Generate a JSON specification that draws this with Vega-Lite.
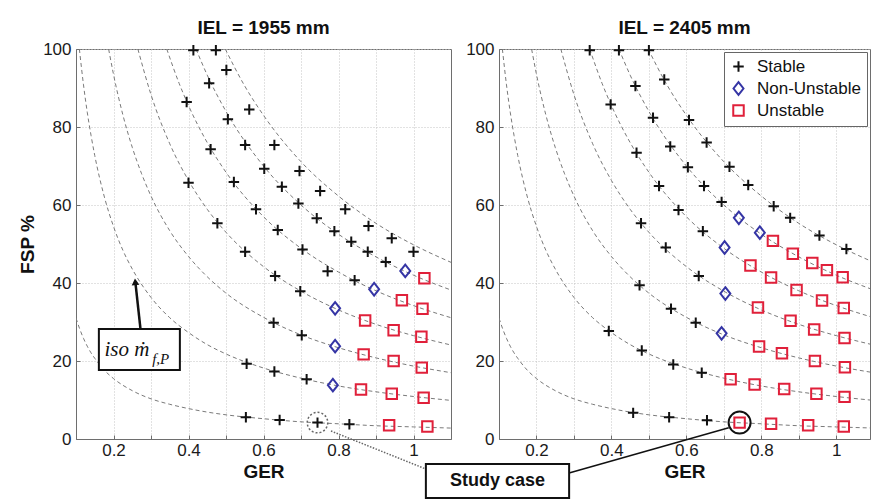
{
  "$schema": "https://vega.github.io/schema/vega-lite/v6.json",
  "background": "white",
  "padding": {"left": 18, "top": 18, "right": 1, "bottom": 4},
  "spacing": 48,
  "bounds": "flush",
  "resolve": {"scale": {"x": "independent", "shape": "independent", "stroke": "independent"}, "legend": {"shape": "independent", "stroke": "independent"}},
  "config": {
    "font": "Liberation Sans",
    "view": {"stroke": "#6e6e6e", "strokeWidth": 1},
    "axis": {"labelFont": "Liberation Sans", "labelFontSize": 17, "labelColor": "#1a1a1a", "titleFont": "Liberation Sans", "titleFontSize": 19, "titleFontWeight": "bold", "titleColor": "#111", "gridColor": "#c4c4c4", "gridDash": [1, 2], "domainColor": "#6e6e6e", "tickColor": "#6e6e6e", "tickSize": -4, "labelPadding": 9},
    "axisX": {"titlePadding": 4, "labelPadding": 7},
    "axisY": {"titlePadding": 5},
    "title": {"font": "Liberation Sans", "fontSize": 19, "fontWeight": "bold", "color": "#111", "offset": 2},
    "legend": {"labelFont": "Liberation Sans", "labelFontSize": 17, "labelColor": "#111", "fillColor": "white", "strokeColor": "#666", "padding": 6, "rowPadding": 2, "symbolStrokeWidth": 2, "symbolSize": 110, "labelOffset": 10, "symbolOpacity": 1}
  },
  "datasets": {
    "curves": [
      {"c": 3.1, "GER": 0.1, "FSP": 31.0}, {"c": 3.1, "GER": 0.11, "FSP": 28.2}, {"c": 3.1, "GER": 0.12, "FSP": 25.8}, {"c": 3.1, "GER": 0.13, "FSP": 23.8}, {"c": 3.1, "GER": 0.14, "FSP": 22.1}, {"c": 3.1, "GER": 0.15, "FSP": 20.7}, {"c": 3.1, "GER": 0.175, "FSP": 17.7}, {"c": 3.1, "GER": 0.2, "FSP": 15.5}, {"c": 3.1, "GER": 0.25, "FSP": 12.4}, {"c": 3.1, "GER": 0.3, "FSP": 10.3}, {"c": 3.1, "GER": 0.35, "FSP": 8.9}, {"c": 3.1, "GER": 0.4, "FSP": 7.8}, {"c": 3.1, "GER": 0.45, "FSP": 6.9}, {"c": 3.1, "GER": 0.5, "FSP": 6.2}, {"c": 3.1, "GER": 0.6, "FSP": 5.2}, {"c": 3.1, "GER": 0.7, "FSP": 4.4}, {"c": 3.1, "GER": 0.8, "FSP": 3.9}, {"c": 3.1, "GER": 0.9, "FSP": 3.4}, {"c": 3.1, "GER": 1.0, "FSP": 3.1}, {"c": 3.1, "GER": 1.1, "FSP": 2.8},
      {"c": 10.9, "GER": 0.109, "FSP": 100}, {"c": 10.9, "GER": 0.12, "FSP": 90.8}, {"c": 10.9, "GER": 0.13, "FSP": 83.8}, {"c": 10.9, "GER": 0.14, "FSP": 77.9}, {"c": 10.9, "GER": 0.15, "FSP": 72.7}, {"c": 10.9, "GER": 0.175, "FSP": 62.3}, {"c": 10.9, "GER": 0.2, "FSP": 54.5}, {"c": 10.9, "GER": 0.225, "FSP": 48.4}, {"c": 10.9, "GER": 0.25, "FSP": 43.6}, {"c": 10.9, "GER": 0.3, "FSP": 36.3}, {"c": 10.9, "GER": 0.35, "FSP": 31.1}, {"c": 10.9, "GER": 0.4, "FSP": 27.3}, {"c": 10.9, "GER": 0.45, "FSP": 24.2}, {"c": 10.9, "GER": 0.5, "FSP": 21.8}, {"c": 10.9, "GER": 0.6, "FSP": 18.2}, {"c": 10.9, "GER": 0.7, "FSP": 15.6}, {"c": 10.9, "GER": 0.8, "FSP": 13.6}, {"c": 10.9, "GER": 0.9, "FSP": 12.1}, {"c": 10.9, "GER": 1.0, "FSP": 10.9}, {"c": 10.9, "GER": 1.1, "FSP": 9.9},
      {"c": 18.7, "GER": 0.187, "FSP": 100}, {"c": 18.7, "GER": 0.2, "FSP": 93.5}, {"c": 18.7, "GER": 0.225, "FSP": 83.1}, {"c": 18.7, "GER": 0.25, "FSP": 74.8}, {"c": 18.7, "GER": 0.275, "FSP": 68.0}, {"c": 18.7, "GER": 0.3, "FSP": 62.3}, {"c": 18.7, "GER": 0.35, "FSP": 53.4}, {"c": 18.7, "GER": 0.4, "FSP": 46.8}, {"c": 18.7, "GER": 0.45, "FSP": 41.6}, {"c": 18.7, "GER": 0.5, "FSP": 37.4}, {"c": 18.7, "GER": 0.6, "FSP": 31.2}, {"c": 18.7, "GER": 0.7, "FSP": 26.7}, {"c": 18.7, "GER": 0.8, "FSP": 23.4}, {"c": 18.7, "GER": 0.9, "FSP": 20.8}, {"c": 18.7, "GER": 1.0, "FSP": 18.7}, {"c": 18.7, "GER": 1.1, "FSP": 17.0},
      {"c": 26.5, "GER": 0.265, "FSP": 100}, {"c": 26.5, "GER": 0.3, "FSP": 88.3}, {"c": 26.5, "GER": 0.35, "FSP": 75.7}, {"c": 26.5, "GER": 0.4, "FSP": 66.3}, {"c": 26.5, "GER": 0.45, "FSP": 58.9}, {"c": 26.5, "GER": 0.5, "FSP": 53.0}, {"c": 26.5, "GER": 0.6, "FSP": 44.2}, {"c": 26.5, "GER": 0.7, "FSP": 37.9}, {"c": 26.5, "GER": 0.8, "FSP": 33.1}, {"c": 26.5, "GER": 0.9, "FSP": 29.4}, {"c": 26.5, "GER": 1.0, "FSP": 26.5}, {"c": 26.5, "GER": 1.1, "FSP": 24.1},
      {"c": 34.2, "GER": 0.342, "FSP": 100}, {"c": 34.2, "GER": 0.375, "FSP": 91.2}, {"c": 34.2, "GER": 0.4, "FSP": 85.5}, {"c": 34.2, "GER": 0.45, "FSP": 76.0}, {"c": 34.2, "GER": 0.5, "FSP": 68.4}, {"c": 34.2, "GER": 0.6, "FSP": 57.0}, {"c": 34.2, "GER": 0.7, "FSP": 48.9}, {"c": 34.2, "GER": 0.8, "FSP": 42.8}, {"c": 34.2, "GER": 0.9, "FSP": 38.0}, {"c": 34.2, "GER": 1.0, "FSP": 34.2}, {"c": 34.2, "GER": 1.1, "FSP": 31.1},
      {"c": 42.0, "GER": 0.42, "FSP": 100}, {"c": 42.0, "GER": 0.45, "FSP": 93.3}, {"c": 42.0, "GER": 0.5, "FSP": 84.0}, {"c": 42.0, "GER": 0.6, "FSP": 70.0}, {"c": 42.0, "GER": 0.7, "FSP": 60.0}, {"c": 42.0, "GER": 0.8, "FSP": 52.5}, {"c": 42.0, "GER": 0.9, "FSP": 46.7}, {"c": 42.0, "GER": 1.0, "FSP": 42.0}, {"c": 42.0, "GER": 1.1, "FSP": 38.2},
      {"c": 49.8, "GER": 0.498, "FSP": 100}, {"c": 49.8, "GER": 0.55, "FSP": 90.5}, {"c": 49.8, "GER": 0.6, "FSP": 83.0}, {"c": 49.8, "GER": 0.7, "FSP": 71.1}, {"c": 49.8, "GER": 0.8, "FSP": 62.3}, {"c": 49.8, "GER": 0.9, "FSP": 55.3}, {"c": 49.8, "GER": 1.0, "FSP": 49.8}, {"c": 49.8, "GER": 1.1, "FSP": 45.3}
    ],
    "points1955": [
      {"GER": 0.413, "FSP": 99.7, "status": "Stable"}, {"GER": 0.473, "FSP": 99.7, "status": "Stable"}, {"GER": 0.501, "FSP": 94.6, "status": "Stable"}, {"GER": 0.455, "FSP": 91.2, "status": "Stable"}, {"GER": 0.395, "FSP": 86.4, "status": "Stable"}, {"GER": 0.562, "FSP": 84.5, "status": "Stable"}, {"GER": 0.505, "FSP": 82.0, "status": "Stable"}, {"GER": 0.459, "FSP": 74.3, "status": "Stable"}, {"GER": 0.551, "FSP": 75.4, "status": "Stable"}, {"GER": 0.629, "FSP": 75.4, "status": "Stable"}, {"GER": 0.602, "FSP": 69.3, "status": "Stable"}, {"GER": 0.696, "FSP": 68.7, "status": "Stable"}, {"GER": 0.4, "FSP": 65.7, "status": "Stable"}, {"GER": 0.521, "FSP": 65.9, "status": "Stable"}, {"GER": 0.649, "FSP": 64.7, "status": "Stable"}, {"GER": 0.751, "FSP": 63.6, "status": "Stable"}, {"GER": 0.58, "FSP": 58.9, "status": "Stable"}, {"GER": 0.693, "FSP": 60.4, "status": "Stable"}, {"GER": 0.818, "FSP": 58.9, "status": "Stable"}, {"GER": 0.477, "FSP": 55.3, "status": "Stable"}, {"GER": 0.742, "FSP": 56.6, "status": "Stable"}, {"GER": 0.638, "FSP": 53.6, "status": "Stable"}, {"GER": 0.789, "FSP": 53.3, "status": "Stable"}, {"GER": 0.88, "FSP": 54.6, "status": "Stable"}, {"GER": 0.834, "FSP": 50.6, "status": "Stable"}, {"GER": 0.942, "FSP": 51.5, "status": "Stable"}, {"GER": 0.551, "FSP": 48.0, "status": "Stable"}, {"GER": 0.704, "FSP": 48.6, "status": "Stable"}, {"GER": 0.878, "FSP": 48.0, "status": "Stable"}, {"GER": 1.0, "FSP": 48.0, "status": "Stable"}, {"GER": 0.926, "FSP": 45.4, "status": "Stable"}, {"GER": 0.771, "FSP": 43.0, "status": "Stable"}, {"GER": 0.631, "FSP": 41.8, "status": "Stable"}, {"GER": 0.843, "FSP": 40.7, "status": "Stable"}, {"GER": 0.698, "FSP": 37.9, "status": "Stable"}, {"GER": 0.627, "FSP": 29.8, "status": "Stable"}, {"GER": 0.702, "FSP": 26.6, "status": "Stable"}, {"GER": 0.555, "FSP": 19.3, "status": "Stable"}, {"GER": 0.629, "FSP": 17.3, "status": "Stable"}, {"GER": 0.715, "FSP": 15.3, "status": "Stable"}, {"GER": 0.553, "FSP": 5.6, "status": "Stable"}, {"GER": 0.643, "FSP": 4.9, "status": "Stable"}, {"GER": 0.744, "FSP": 4.2, "status": "Stable"}, {"GER": 0.829, "FSP": 3.8, "status": "Stable"},
      {"GER": 0.978, "FSP": 43.1, "status": "Non-Unstable"}, {"GER": 0.895, "FSP": 38.4, "status": "Non-Unstable"}, {"GER": 0.791, "FSP": 33.5, "status": "Non-Unstable"}, {"GER": 0.791, "FSP": 23.8, "status": "Non-Unstable"}, {"GER": 0.785, "FSP": 13.8, "status": "Non-Unstable"},
      {"GER": 1.029, "FSP": 41.2, "status": "Unstable"}, {"GER": 0.969, "FSP": 35.6, "status": "Unstable"}, {"GER": 1.024, "FSP": 33.4, "status": "Unstable"}, {"GER": 0.871, "FSP": 30.4, "status": "Unstable"}, {"GER": 0.947, "FSP": 27.9, "status": "Unstable"}, {"GER": 1.021, "FSP": 26.2, "status": "Unstable"}, {"GER": 0.867, "FSP": 21.7, "status": "Unstable"}, {"GER": 0.947, "FSP": 20.0, "status": "Unstable"}, {"GER": 1.022, "FSP": 18.3, "status": "Unstable"}, {"GER": 0.86, "FSP": 12.7, "status": "Unstable"}, {"GER": 0.942, "FSP": 11.6, "status": "Unstable"}, {"GER": 1.027, "FSP": 10.6, "status": "Unstable"}, {"GER": 0.935, "FSP": 3.5, "status": "Unstable"}, {"GER": 1.037, "FSP": 3.2, "status": "Unstable"}
    ],
    "points2405": [
      {"GER": 0.342, "FSP": 99.7, "status": "Stable"}, {"GER": 0.42, "FSP": 99.7, "status": "Stable"}, {"GER": 0.5, "FSP": 99.7, "status": "Stable"}, {"GER": 0.541, "FSP": 92.2, "status": "Stable"}, {"GER": 0.464, "FSP": 90.5, "status": "Stable"}, {"GER": 0.398, "FSP": 85.8, "status": "Stable"}, {"GER": 0.511, "FSP": 82.4, "status": "Stable"}, {"GER": 0.607, "FSP": 81.8, "status": "Stable"}, {"GER": 0.654, "FSP": 76.0, "status": "Stable"}, {"GER": 0.557, "FSP": 75.0, "status": "Stable"}, {"GER": 0.467, "FSP": 73.4, "status": "Stable"}, {"GER": 0.604, "FSP": 69.7, "status": "Stable"}, {"GER": 0.715, "FSP": 69.8, "status": "Stable"}, {"GER": 0.527, "FSP": 64.9, "status": "Stable"}, {"GER": 0.647, "FSP": 64.9, "status": "Stable"}, {"GER": 0.765, "FSP": 65.1, "status": "Stable"}, {"GER": 0.579, "FSP": 58.7, "status": "Stable"}, {"GER": 0.694, "FSP": 60.8, "status": "Stable"}, {"GER": 0.833, "FSP": 59.7, "status": "Stable"}, {"GER": 0.479, "FSP": 55.3, "status": "Stable"}, {"GER": 0.877, "FSP": 56.7, "status": "Stable"}, {"GER": 0.644, "FSP": 53.3, "status": "Stable"}, {"GER": 0.955, "FSP": 52.2, "status": "Stable"}, {"GER": 0.545, "FSP": 49.1, "status": "Stable"}, {"GER": 1.027, "FSP": 48.7, "status": "Stable"}, {"GER": 0.475, "FSP": 39.4, "status": "Stable"}, {"GER": 0.633, "FSP": 41.8, "status": "Stable"}, {"GER": 0.559, "FSP": 33.4, "status": "Stable"}, {"GER": 0.625, "FSP": 29.8, "status": "Stable"}, {"GER": 0.393, "FSP": 27.7, "status": "Stable"}, {"GER": 0.481, "FSP": 22.7, "status": "Stable"}, {"GER": 0.565, "FSP": 19.1, "status": "Stable"}, {"GER": 0.641, "FSP": 17.0, "status": "Stable"}, {"GER": 0.458, "FSP": 6.7, "status": "Stable"}, {"GER": 0.554, "FSP": 5.6, "status": "Stable"}, {"GER": 0.655, "FSP": 4.8, "status": "Stable"},
      {"GER": 0.74, "FSP": 56.7, "status": "Non-Unstable"}, {"GER": 0.796, "FSP": 52.9, "status": "Non-Unstable"}, {"GER": 0.702, "FSP": 49.1, "status": "Non-Unstable"}, {"GER": 0.704, "FSP": 37.3, "status": "Non-Unstable"}, {"GER": 0.694, "FSP": 27.1, "status": "Non-Unstable"},
      {"GER": 0.831, "FSP": 50.8, "status": "Unstable"}, {"GER": 0.884, "FSP": 47.5, "status": "Unstable"}, {"GER": 0.771, "FSP": 44.5, "status": "Unstable"}, {"GER": 0.936, "FSP": 45.1, "status": "Unstable"}, {"GER": 0.975, "FSP": 43.3, "status": "Unstable"}, {"GER": 1.017, "FSP": 41.5, "status": "Unstable"}, {"GER": 0.826, "FSP": 41.4, "status": "Unstable"}, {"GER": 0.894, "FSP": 38.2, "status": "Unstable"}, {"GER": 0.962, "FSP": 35.5, "status": "Unstable"}, {"GER": 1.02, "FSP": 33.6, "status": "Unstable"}, {"GER": 0.791, "FSP": 33.7, "status": "Unstable"}, {"GER": 0.878, "FSP": 30.3, "status": "Unstable"}, {"GER": 0.941, "FSP": 28.1, "status": "Unstable"}, {"GER": 1.022, "FSP": 25.9, "status": "Unstable"}, {"GER": 0.794, "FSP": 23.7, "status": "Unstable"}, {"GER": 0.855, "FSP": 22.0, "status": "Unstable"}, {"GER": 0.943, "FSP": 20.0, "status": "Unstable"}, {"GER": 1.023, "FSP": 18.4, "status": "Unstable"}, {"GER": 0.718, "FSP": 15.3, "status": "Unstable"}, {"GER": 0.782, "FSP": 14.0, "status": "Unstable"}, {"GER": 0.861, "FSP": 12.8, "status": "Unstable"}, {"GER": 0.947, "FSP": 11.6, "status": "Unstable"}, {"GER": 1.022, "FSP": 10.8, "status": "Unstable"}, {"GER": 0.742, "FSP": 4.2, "status": "Unstable"}, {"GER": 0.826, "FSP": 3.9, "status": "Unstable"}, {"GER": 0.925, "FSP": 3.5, "status": "Unstable"}, {"GER": 1.02, "FSP": 3.2, "status": "Unstable"}
    ],
    "studyBox": [{"GER": 1.033, "GER2": 1.415, "FSP": -6.4, "FSP2": -15.1, "GERm": 1.224, "FSPm": -10.8, "label": "Study case"}],
    "isoBox": [{"GER": 0.161, "GER2": 0.377, "FSP": 28.2, "FSP2": 17.7}],
    "isoText": [{"GER": 0.176, "FSP": 21.3, "label": "iso ṁ"}],
    "isoSub": [{"GER": 0.303, "FSP": 19.2, "label": "f,P"}],
    "arrowLine": [{"GER": 0.272, "FSP": 28.2}, {"GER": 0.259, "FSP": 39.6}],
    "arrowHead": [{"GER": 0.258, "FSP": 40.3}],
    "dotLine": [{"GER": 0.78, "FSP": 2.05}, {"GER": 1.033, "FSP": -7.7}],
    "studyLeft": [{"GER": 0.744, "FSP": 4.2}],
    "studyRight": [{"GER": 0.742, "FSP": 4.2}],
    "solidLine": [{"GER": 0.287, "FSP": -8.7}, {"GER": 0.713, "FSP": 2.9}]
  },
  "hconcat": [
    {
      "width": 375,
      "height": 390,
      "title": "IEL = 1955 mm",
      "layer": [
        {
          "data": {"name": "curves"},
          "mark": {"type": "line", "strokeDash": [4, 3], "color": "#7a7a7a", "strokeWidth": 1, "interpolate": "monotone", "clip": true},
          "encoding": {
            "x": {"field": "GER", "type": "quantitative", "scale": {"domain": [0.1, 1.1], "nice": false, "zero": false}, "axis": {"title": "GER", "values": [0.2, 0.3, 0.4, 0.5, 0.6, 0.7, 0.8, 0.9, 1.0], "format": "~g", "labelExpr": "indexof(['0.2','0.4','0.6','0.8','1'], datum.label) >= 0 ? datum.label : ''"}},
            "y": {"field": "FSP", "type": "quantitative", "scale": {"domain": [0, 100], "nice": false, "zero": false}, "axis": {"title": "FSP %", "values": [0, 10, 20, 30, 40, 50, 60, 70, 80, 90, 100]}},
            "detail": {"field": "c", "type": "nominal"}
          }
        },
        {
          "data": {"name": "points1955"},
          "mark": {"type": "point", "filled": false, "strokeWidth": 2, "size": 110, "opacity": 1},
          "encoding": {
            "x": {"field": "GER", "type": "quantitative"},
            "y": {"field": "FSP", "type": "quantitative"},
            "shape": {"field": "status", "type": "nominal", "scale": {"domain": ["Stable", "Non-Unstable", "Unstable"], "range": ["M-1,0L1,0M0,-1L0,1", "M0,-1.2L0.95,0L0,1.2L-0.95,0Z", "square"]}, "legend": null},
            "stroke": {"field": "status", "type": "nominal", "scale": {"domain": ["Stable", "Non-Unstable", "Unstable"], "range": ["#111111", "#3535a5", "#e0203a"]}, "legend": null}
          }
        },
        {
          "data": {"name": "studyLeft"},
          "mark": {"type": "point", "shape": "circle", "filled": false, "size": 420, "stroke": "#666666", "strokeWidth": 1.5, "strokeDash": [2, 2], "opacity": 1},
          "encoding": {"x": {"field": "GER", "type": "quantitative"}, "y": {"field": "FSP", "type": "quantitative"}}
        },
        {
          "data": {"name": "dotLine"},
          "mark": {"type": "line", "stroke": "#666666", "strokeWidth": 1.5, "strokeDash": [1.5, 1.5], "clip": false},
          "encoding": {"x": {"field": "GER", "type": "quantitative"}, "y": {"field": "FSP", "type": "quantitative"}}
        },
        {
          "data": {"name": "studyBox"},
          "mark": {"type": "rect", "fill": "white", "stroke": "#111111", "strokeWidth": 2, "clip": false},
          "encoding": {"x": {"field": "GER", "type": "quantitative"}, "x2": {"field": "GER2"}, "y": {"field": "FSP", "type": "quantitative"}, "y2": {"field": "FSP2"}}
        },
        {
          "data": {"name": "studyBox"},
          "mark": {"type": "text", "font": "Liberation Sans", "fontSize": 18, "fontWeight": "bold", "color": "#111111", "align": "center", "baseline": "middle", "clip": false},
          "encoding": {"x": {"field": "GERm", "type": "quantitative"}, "y": {"field": "FSPm", "type": "quantitative"}, "text": {"field": "label"}}
        },
        {
          "data": {"name": "isoBox"},
          "mark": {"type": "rect", "fill": "white", "stroke": "#111111", "strokeWidth": 2},
          "encoding": {"x": {"field": "GER", "type": "quantitative"}, "x2": {"field": "GER2"}, "y": {"field": "FSP", "type": "quantitative"}, "y2": {"field": "FSP2"}}
        },
        {
          "data": {"name": "isoText"},
          "mark": {"type": "text", "font": "Liberation Serif, DejaVu Serif, serif", "fontSize": 21, "fontStyle": "italic", "color": "#111111", "align": "left", "baseline": "alphabetic"},
          "encoding": {"x": {"field": "GER", "type": "quantitative"}, "y": {"field": "FSP", "type": "quantitative"}, "text": {"field": "label"}}
        },
        {
          "data": {"name": "isoSub"},
          "mark": {"type": "text", "font": "Liberation Serif, DejaVu Serif, serif", "fontSize": 15, "fontStyle": "italic", "color": "#111111", "align": "left", "baseline": "alphabetic"},
          "encoding": {"x": {"field": "GER", "type": "quantitative"}, "y": {"field": "FSP", "type": "quantitative"}, "text": {"field": "label"}}
        },
        {
          "data": {"name": "arrowLine"},
          "mark": {"type": "line", "stroke": "#111111", "strokeWidth": 2.5},
          "encoding": {"x": {"field": "GER", "type": "quantitative"}, "y": {"field": "FSP", "type": "quantitative"}}
        },
        {
          "data": {"name": "arrowHead"},
          "mark": {"type": "point", "shape": "triangle-up", "filled": true, "size": 60, "color": "#111111", "opacity": 1, "angle": -5},
          "encoding": {"x": {"field": "GER", "type": "quantitative"}, "y": {"field": "FSP", "type": "quantitative"}}
        }
      ]
    },
    {
      "width": 371,
      "height": 390,
      "title": "IEL = 2405 mm",
      "layer": [
        {
          "data": {"name": "curves"},
          "mark": {"type": "line", "strokeDash": [4, 3], "color": "#7a7a7a", "strokeWidth": 1, "interpolate": "monotone", "clip": true},
          "encoding": {
            "x": {"field": "GER", "type": "quantitative", "scale": {"domain": [0.1, 1.09], "nice": false, "zero": false}, "axis": {"title": "GER", "values": [0.2, 0.3, 0.4, 0.5, 0.6, 0.7, 0.8, 0.9, 1.0], "format": "~g", "labelExpr": "indexof(['0.2','0.4','0.6','0.8','1'], datum.label) >= 0 ? datum.label : ''"}},
            "y": {"field": "FSP", "type": "quantitative", "scale": {"domain": [0, 100], "nice": false, "zero": false}, "axis": {"title": null, "values": [0, 10, 20, 30, 40, 50, 60, 70, 80, 90, 100]}},
            "detail": {"field": "c", "type": "nominal"}
          }
        },
        {
          "data": {"name": "points2405"},
          "mark": {"type": "point", "filled": false, "strokeWidth": 2, "size": 110, "opacity": 1},
          "encoding": {
            "x": {"field": "GER", "type": "quantitative"},
            "y": {"field": "FSP", "type": "quantitative"},
            "shape": {"field": "status", "type": "nominal", "scale": {"domain": ["Stable", "Non-Unstable", "Unstable"], "range": ["M-1,0L1,0M0,-1L0,1", "M0,-1.2L0.95,0L0,1.2L-0.95,0Z", "square"]}, "legend": {"title": null, "orient": "top-right", "offset": 3}},
            "stroke": {"field": "status", "type": "nominal", "scale": {"domain": ["Stable", "Non-Unstable", "Unstable"], "range": ["#111111", "#3535a5", "#e0203a"]}, "legend": {"title": null, "orient": "top-right", "offset": 3}}
          }
        },
        {
          "data": {"name": "studyRight"},
          "mark": {"type": "point", "shape": "circle", "filled": false, "size": 484, "stroke": "#111111", "strokeWidth": 2, "opacity": 1},
          "encoding": {"x": {"field": "GER", "type": "quantitative"}, "y": {"field": "FSP", "type": "quantitative"}}
        },
        {
          "data": {"name": "solidLine"},
          "mark": {"type": "line", "stroke": "#111111", "strokeWidth": 1.5, "clip": false},
          "encoding": {"x": {"field": "GER", "type": "quantitative"}, "y": {"field": "FSP", "type": "quantitative"}}
        }
      ]
    }
  ]
}
